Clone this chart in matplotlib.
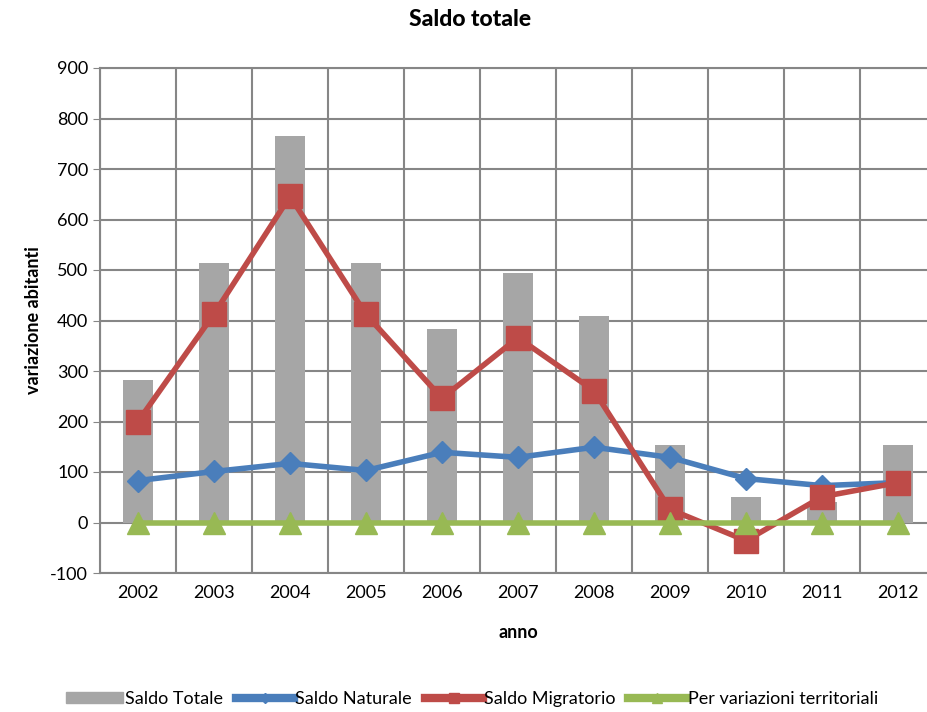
import numpy as np
import matplotlib.pyplot as plt
from matplotlib.lines import Line2D
from matplotlib.patches import Patch

plt.rcParams['font.family'] = ['Lato', 'DejaVu Sans']
plt.rcParams['axes.unicode_minus'] = False

anni = ['2002', '2003', '2004', '2005', '2006', '2007', '2008', '2009', '2010', '2011', '2012']
saldo_totale = [283, 514, 765, 514, 384, 495, 409, 154, 51, 40, 154]
saldo_naturale = [83, 101, 117, 103, 139, 129, 149, 129, 87, 73, 79]
saldo_migratorio = [200, 413, 646, 412, 246, 366, 261, 26, -36, 51, 79]
variazioni_territoriali = [0, 0, 0, 0, 0, 0, 0, 0, 0, 0, 0]

c_tot, c_nat, c_mig, c_ter = '#a6a6a6', '#4a7ebb', '#be4b48', '#98b954'

fig = plt.figure(figsize=(9.28, 7.12), dpi=100)
ax = fig.add_axes([100 / 928, 1 - 573 / 712, 836 / 928, 505 / 712])

x = np.arange(len(anni))
ax.bar(x, saldo_totale, width=0.4, color=c_tot, zorder=2)
ax.plot(x, saldo_naturale, color=c_nat, lw=4, marker='D', ms=11, zorder=3)
ax.plot(x, saldo_migratorio, color=c_mig, lw=4, marker='s', ms=17, zorder=4)
ax.plot(x, variazioni_territoriali, color=c_ter, lw=4, marker='^', ms=16, zorder=5)

ax.set_xlim(-0.5, len(anni) - 0.5)
ax.set_ylim(-100, 900)
ax.set_yticks(range(-100, 901, 100))
ax.set_xticks(x)
ax.set_xticklabels(anni)
ax.set_xticks(np.arange(-0.5, len(anni), 1), minor=True)
ax.tick_params(axis='x', which='both', length=0, labelsize=13, pad=9)
ax.tick_params(axis='y', length=5, labelsize=13, color='#868686')
ax.grid(axis='y', color='#868686', lw=1.5, zorder=0)
ax.grid(axis='x', which='minor', color='#868686', lw=1.5, zorder=0)
for s in ax.spines.values():
    s.set_color('#868686')
    s.set_linewidth(1.5)

fig.text(470 / 928, 1 - 19 / 712, 'Saldo totale', fontsize=16.5, fontweight='black',
         ha='center', va='center')
ax.set_xlabel('anno', fontsize=13, fontweight='bold', labelpad=16)
ax.set_ylabel('variazione abitanti', fontsize=13, fontweight='bold', labelpad=6)

handles = [
    Patch(color=c_tot),
    Line2D([], [], color=c_nat, lw=6, marker='D', ms=5),
    Line2D([], [], color=c_mig, lw=6, marker='s', ms=7),
    Line2D([], [], color=c_ter, lw=6, marker='^', ms=7),
]
labels = ['Saldo Totale', 'Saldo Naturale', 'Saldo Migratorio', 'Per variazioni territoriali']
fig.legend(handles, labels, loc='center',
           bbox_to_anchor=(472 / 928, 1 - 699 / 712), ncol=4,
           frameon=False, fontsize=13, handlelength=3.2, handleheight=0.5,
           handletextpad=0.1, columnspacing=0.7)

fig.savefig('out.png', dpi=100)
